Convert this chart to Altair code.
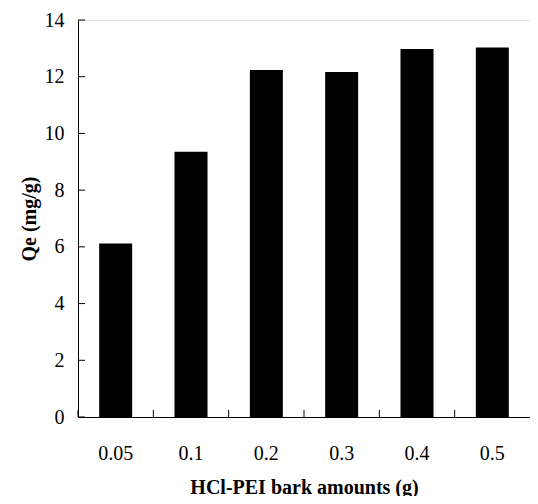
import altair as alt
import pandas as pd

categories = ["0.05", "0.1", "0.2", "0.3", "0.4", "0.5"]
qe_values = [6.12, 9.35, 12.24, 12.17, 12.98, 13.03]
y_ticks = [0, 2, 4, 6, 8, 10, 12, 14]

bars_df = pd.DataFrame({"amount": categories, "qe": qe_values})
yt_df = pd.DataFrame({"qe": y_ticks})
xt_df = pd.DataFrame({"amount": categories})

FONT = "Liberation Serif"
W, H = 452, 397

x_scale = alt.Scale(domain=categories, paddingInner=0, paddingOuter=0)
y_scale = alt.Scale(domain=[0, 14], nice=False, zero=True)

x_axis = alt.Axis(title="HCl-PEI bark amounts (g)", labelAngle=0,
                  ticks=False, grid=False, domainColor="black",
                  labelFont=FONT, labelFontSize=20, labelColor="black",
                  labelPadding=26, titleFont=FONT, titleFontSize=20,
                  titleFontWeight="bold", titleColor="black",
                  titlePadding=14)
y_axis = alt.Axis(title="Qe (mg/g)", values=y_ticks, ticks=False,
                  grid=False, domainColor="black",
                  labelFont=FONT, labelFontSize=20, labelColor="black",
                  labelPadding=14, titleFont=FONT, titleFontSize=20,
                  titleFontWeight="bold", titleColor="black",
                  titlePadding=5)

bars = alt.Chart(bars_df).mark_bar(size=33, color="black").encode(
    x=alt.X("amount:N", scale=x_scale, sort=categories, axis=x_axis),
    y=alt.Y("qe:Q", scale=y_scale, axis=y_axis),
)

ytick = alt.Chart(yt_df).mark_rule(color="black", strokeWidth=1).encode(
    y=alt.Y("qe:Q", scale=y_scale, axis=y_axis),
    x=alt.value(0), x2=alt.value(7),
)

xtick = alt.Chart(xt_df).mark_rule(color="black", strokeWidth=1).encode(
    x=alt.X("amount:N", scale=x_scale, sort=categories, bandPosition=0, axis=x_axis),
    y=alt.value(H), y2=alt.value(H - 7),
)

chart = alt.layer(bars, ytick, xtick).properties(
    width=W, height=H,
    autosize=alt.AutoSizeParams(type="none"),
    padding={"left": 70, "top": 12, "right": 0, "bottom": 79},
).configure_view(stroke="#888888", strokeWidth=1.5).configure(background="white")

chart.save("out.html", embed_options={"renderer": "svg", "actions": False})
